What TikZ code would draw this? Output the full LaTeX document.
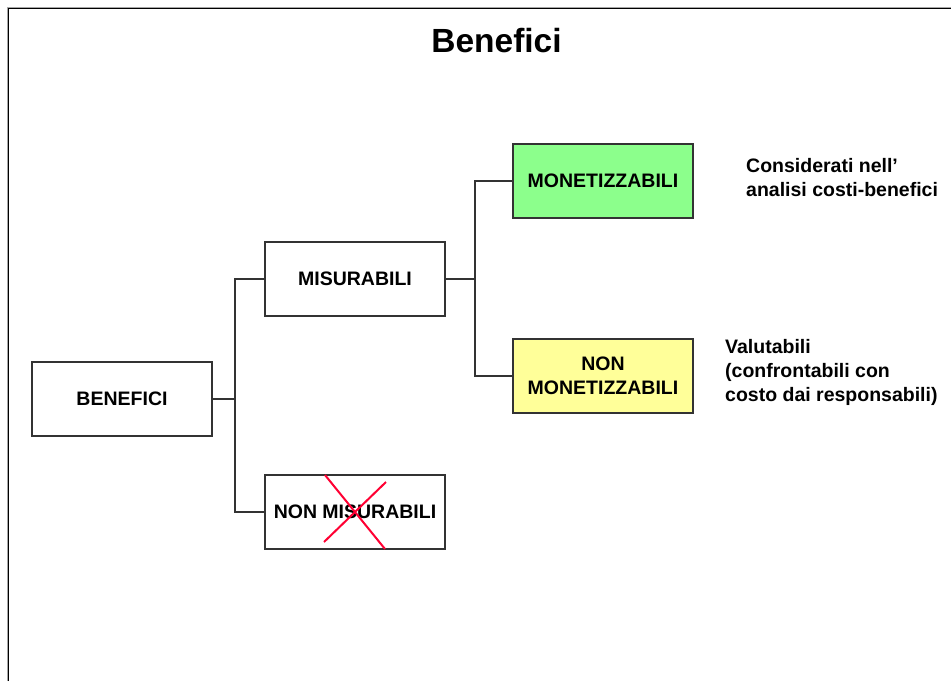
\documentclass[tikz,border=0pt]{standalone}
\usepackage{fontspec}
\setmainfont{Liberation Sans}
\definecolor{boxline}{HTML}{333333}
\definecolor{greenfill}{HTML}{8CFF8C}
\definecolor{yellowfill}{HTML}{FFFF99}
\definecolor{crossred}{HTML}{FF0033}
\begin{document}
\begin{tikzpicture}[x=1pt,y=-1pt,
  catbox/.style={draw=boxline, line width=1.2pt, minimum width=180pt, minimum height=74pt,
    inner sep=0pt, align=center, font=\fontsize{19.5}{24}\selectfont\bfseries},
  sidetext/.style={anchor=north west, inner sep=0pt, align=left,
    font=\fontsize{19.5}{24}\selectfont\bfseries},
  link/.style={draw=boxline, line width=1.2pt}]
\useasboundingbox (0,0) rectangle (951,681);
\fill[white] (0,0) rectangle (951,681);
% frame
\draw[gray!70, line width=2pt] (8,681) -- (8,7.5) -- (951,7.5);
\draw[black, line width=0.9pt] (8.5,681) -- (8.5,8) -- (951,8);
% title
\node[anchor=base, inner sep=0pt, font=\fontsize{33.5}{40}\selectfont\bfseries] (title) at (496.5,52) {Benefici};
% boxes
\node[catbox] (ben) at (122,399) {BENEFICI};
\node[catbox] (mis) at (355,279) {MISURABILI};
\node[catbox] (nonmis) at (355,512) {NON MISURABILI};
\node[catbox, fill=greenfill] (mon) at (603,181) {MONETIZZABILI};
\node[catbox, fill=yellowfill] (nonmon) at (603,376) {NON\\MONETIZZABILI};
% connectors
\coordinate (j1) at (235,399);
\coordinate (j2) at (475,279);
\draw[link] (ben.east) -- (j1);
\draw[link] (mis.west) -| (j1) |- (nonmis.west);
\draw[link] (mis.east) -- (j2);
\draw[link] (mon.west) -| (j2) |- (nonmon.west);
% red cross
\coordinate (xa) at (325,475);
\coordinate (xb) at (385,549);
\coordinate (xc) at (324,542);
\coordinate (xd) at (386,482);
\draw[crossred, line width=2pt] (xa) -- (xb);
\draw[crossred, line width=2pt] (xc) -- (xd);
% side texts
\node[sidetext] (cons) at (746,158.5) {Considerati nell’\\analisi costi-benefici};
\node[sidetext] (val) at (725,338.8) {Valutabili\\(confrontabili con\\costo dai responsabili)};
\end{tikzpicture}
\end{document}
